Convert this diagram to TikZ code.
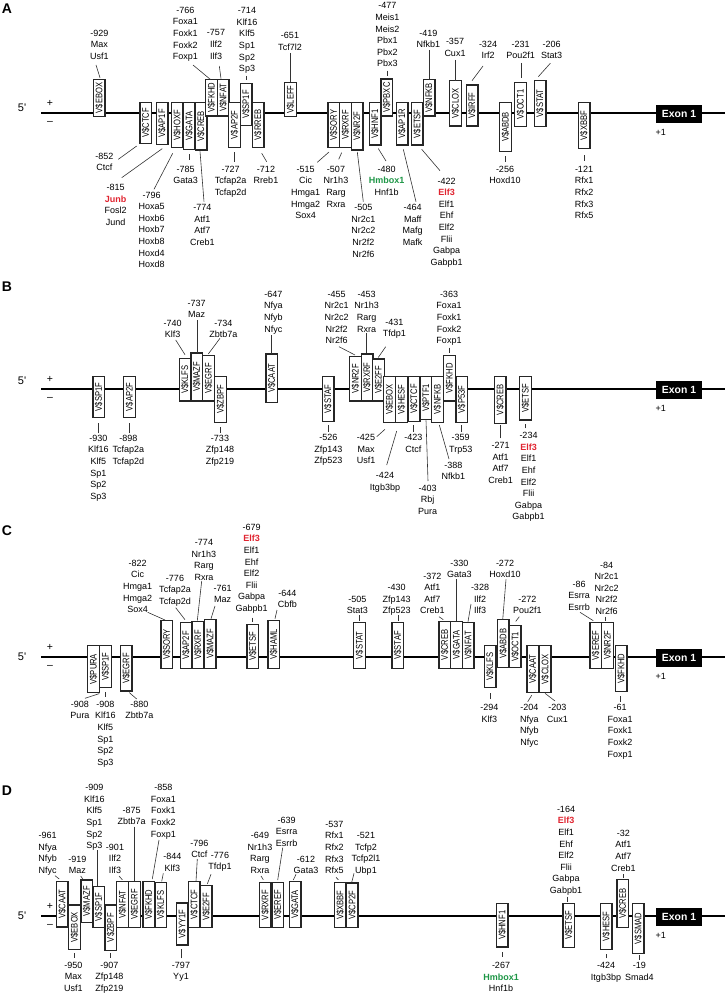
\documentclass[tikz,border=0pt]{standalone}
\usepackage{fontspec}
\setmainfont{Liberation Sans}
\usepackage{graphicx}
\definecolor{elfred}{RGB}{224,36,48}
\definecolor{hmgreen}{RGB}{30,150,70}
\newcommand\rd[1]{\textbf{\textcolor{elfred}{#1}}}
\newcommand\gn[1]{\textbf{\textcolor{hmgreen}{#1}}}
\newcommand\bx[1]{\rotatebox{90}{\scalebox{0.8}[1]{\fontsize{9.5}{9.5}\selectfont V\$#1}}}
\newcommand\tf[5]{\pgfmathsetmacro\tfh{#5-#4-1.4}\pgfmathsetmacro\tfy{(#4+#5)/2}%
  \node[tfb,minimum height=\tfh pt] (#1) at (#3,\tfy) {\bx{#2}};}
\newcommand\lb[4]{\pgfmathsetmacro\lby{#3-3.2}\node[lab] (#1) at (#2,\lby) {#4};}
\newcommand\ld[4]{\draw[leader] ([shift={(#2)}]#1) -- ([shift={(#4)}]#3);}
\newcommand\strand[5]{%
  \node[plet] (#1let) at (7,#4) {#3};
  \coordinate (#1s) at (41,#2); \coordinate (#1e) at (725,#2);
  \draw[dna] (#1s) -- (#1e);
  \node[fivep] (#1five) at (22,#5) {5\textquotesingle};
  \node[pm] (#1plus) at (50,{#2-9.5}) {+};
  \node[pm] (#1minus) at (50,{#2+10}) {\textendash};
  \node[exon] (#1exon) at (679,{#2+1}) {Exon 1};
  \node[lab,anchor=center] (#1one) at (660.7,{#2+19}) {+1};}
\begin{document}
\begin{tikzpicture}[x=1pt,y=-1pt,
  tfb/.style={draw=black!85,line width=1.4pt,fill=white,minimum width=11.6pt,inner sep=0pt,outer sep=0pt},
  lab/.style={anchor=north,inner sep=0pt,outer sep=0pt,align=center,font=\fontsize{9}{11.6}\selectfont},
  leader/.style={draw=black!80,line width=0.6pt},
  dna/.style={line width=1.4pt,black},
  plet/.style={font=\fontsize{14}{14}\selectfont\bfseries,inner sep=0pt},
  fivep/.style={font=\fontsize{11}{11}\selectfont,inner sep=0pt},
  pm/.style={font=\fontsize{10.5}{10.5}\selectfont,inner sep=0pt},
  exon/.style={fill=black,text=white,font=\fontsize{10.4}{10.4}\selectfont\bfseries,minimum width=46.6pt,minimum height=18pt,inner sep=0pt}]
\useasboundingbox (0,0) rectangle (726,995);
% ================= A =================
\strand{A}{113}{A}{8.3}{108}
\tf{aEBOX}{EBOX}{99.3}{79}{117}
\tf{aCTCF}{CTCF}{145.7}{102}{144}
\tf{aAP1F}{AP1F}{162}{102}{145}
\tf{aHOXF}{HOXF}{177.3}{102}{148.3}
\tf{aGATA}{GATA}{189.1}{102}{150}
\tf{aCREB}{CREB}{201}{102}{150.7}
\tf{aFKHD}{FKHD}{211.5}{79}{116.7}
\tf{aNFAT}{NFAT}{223.2}{79}{116.7}
\tf{aAP2F}{AP2F}{234.5}{102}{148}
\tf{aSP1F}{SP1F}{246}{83}{126}
\tf{aRREB}{RREB}{258}{102}{148}
\tf{aLEFF}{LEFF}{290.5}{81.7}{117.3}
\tf{aSORY}{SORY}{333.8}{102}{148.3}
\tf{aRXRF}{RXRF}{345.4}{102}{148}
\tf{aNR2F}{NR2F}{357}{102}{150.7}
\tf{aHNF1}{HNF1}{375}{102}{145.7}
\tf{aPBXC}{PBXC}{386.7}{78.3}{116.7}
\tf{aAP1R}{AP1R}{402}{102}{145.7}
\tf{aETSF}{ETSF}{417.2}{102}{145.7}
\tf{aNFKB}{NFKB}{429}{79}{116.7}
\tf{aCLOX}{CLOX}{455.5}{80}{126.7}
\tf{aIRFF}{IRFF}{472}{84.3}{126.7}
\tf{aABDB}{ABDB}{505.5}{102}{152}
\tf{aOCT1}{OCT1}{520.5}{82}{127}
\tf{aSTAT}{STAT}{540}{80}{127}
\tf{aXBBF}{XBBF}{584}{102}{149}
\lb{A929}{99.3}{33}{-929\\Max\\Usf1}
\lb{A766}{185.3}{10.3}{-766\\Foxa1\\Foxk1\\Foxk2\\Foxp1}
\lb{A757}{216}{33}{-757\\Ilf2\\Ilf3}
\lb{A714}{247}{10.8}{-714\\Klf16\\Klf5\\Sp1\\Sp2\\Sp3}
\lb{A651}{290}{35.7}{-651\\Tcf7l2}
\lb{A477}{387.3}{6}{-477\\Meis1\\Meis2\\Pbx1\\Pbx2\\Pbx3}
\lb{A419}{428.3}{33.3}{-419\\Nfkb1}
\lb{A357}{455}{41.7}{-357\\Cux1}
\lb{A324}{488}{44.3}{-324\\Irf2}
\lb{A231}{520.7}{44.3}{-231\\Pou2f1}
\lb{A206}{551.7}{44.3}{-206\\Stat3}
\lb{A852}{104.3}{156}{-852\\Ctcf}
\lb{A815}{115.7}{187.7}{-815\\\rd{Junb}\\Fosl2\\Jund}
\lb{A796}{151.7}{195}{-796\\Hoxa5\\Hoxb6\\Hoxb7\\Hoxb8\\Hoxd4\\Hoxd8}
\lb{A785}{185.7}{169.3}{-785\\Gata3}
\lb{A774}{202.3}{207.7}{-774\\Atf1\\Atf7\\Creb1}
\lb{A727}{230.7}{169.3}{-727\\Tcfap2a\\Tcfap2d}
\lb{A712}{266}{169.3}{-712\\Rreb1}
\lb{A515}{305.7}{169.3}{-515\\Cic\\Hmga1\\Hmga2\\Sox4}
\lb{A507}{336}{169.3}{-507\\Nr1h3\\Rarg\\Rxra}
\lb{A505}{363.3}{207.7}{-505\\Nr2c1\\Nr2c2\\Nr2f2\\Nr2f6}
\lb{A480}{386.7}{169.3}{-480\\\gn{Hmbox1}\\Hnf1b}
\lb{A464}{412.7}{207.7}{-464\\Maff\\Mafg\\Mafk}
\lb{A422}{446.7}{181}{-422\\\rd{Elf3}\\Elf1\\Ehf\\Elf2\\Flii\\Gabpa\\Gabpb1}
\lb{A256}{505}{169.3}{-256\\Hoxd10}
\lb{A121}{584}{169.3}{-121\\Rfx1\\Rfx2\\Rfx3\\Rfx5}
\ld{A929.north}{-3.3,35.2}{aEBOX.north}{0.7,-2}
\ld{A766.north}{7.7,57.9}{aFKHD.north}{-0.8,0}
\ld{A757.north}{3.3,36.2}{aNFAT.north}{-2.2,-1}
\ld{A714.north}{-1,68.4}{aSP1F.north}{0,-4}
\ld{A651.north}{0,20.5}{aLEFF.north}{-0.5,-0.7}
\ld{A477.north}{-0.3,67.9}{aPBXC.north}{0.3,-3.3}
\ld{A419.north}{0.7,19.9}{aNFKB.north}{0,0}
\ld{A357.north}{0.5,21.5}{aCLOX.north}{0,0}
\ld{A324.north}{-5,24.9}{aIRFF.north}{0,-4.3}
\ld{A231.north}{0.3,21.9}{aOCT1.north}{0.5,-5}
\ld{A206.north}{-1.4,22.2}{aSTAT.north}{-1.7,-4}
\ld{A852.north}{14,6.5}{aCTCF.south}{-9,2.7}
\ld{A815.north}{6,-6.8}{aAP1F.south}{0.3,4.3}
\ld{A796.north}{2.3,-2.5}{aHOXF.south}{-4.6,5.7}
\ld{A785.north}{3.3,-6.1}{aGATA.south}{-0.1,5}
\ld{A774.north}{1.7,-2.8}{aCREB.south}{-1,1.3}
\ld{A727.north}{3.3,-4.1}{aAP2F.south}{-0.5,5}
\ld{A712.north}{0.7,-4.4}{aRREB.south}{3.7,6}
\ld{A515.north}{11.6,-3.8}{aSORY.south}{-4.8,4.4}
\ld{A507.north}{2.7,-6.8}{aRXRF.south}{-3.7,5.3}
\ld{A505.north}{0,-2.8}{aNR2F.south}{0.3,2}
\ld{A480.north}{-0.7,-5.1}{aHNF1.south}{3.3,3.6}
\ld{A464.north}{3.3,-2.8}{aAP1R.south}{1.3,4.3}
\ld{A422.north}{-6.7,-7.1}{aETSF.south}{4.5,4.3}
\ld{A256.north}{0,-4.1}{aABDB.south}{-0.5,5}
\ld{A121.north}{0,-5.1}{aXBBF.south}{0,7}
% ================= B =================
\strand{B}{389}{B}{287}{381}
\tf{bSP1F}{SP1F}{98.7}{375.7}{418.3}
\tf{bAP2F}{AP2F}{129.5}{375.7}{418.3}
\tf{bKLFS}{KLFS}{185}{357.7}{401.7}
\tf{bMAZF}{MAZF}{196.8}{352.3}{401.7}
\tf{bEGRF}{EGRF}{208.5}{355}{401.7}
\tf{bZBPF}{ZBPF}{220.5}{375.7}{423.3}
\tf{bCAAT}{CAAT}{271.7}{353.3}{403.3}
\tf{bSTAF}{STAF}{328}{375.7}{422.3}
\tf{bNR2F}{NR2F}{355.5}{355.7}{401.7}
\tf{bRXRF}{RXRF}{367}{353.3}{401.7}
\tf{bE2FF}{E2FF}{378.5}{358.3}{401.7}
\tf{bEBOX}{EBOX}{389.5}{375.7}{423.3}
\tf{bHESF}{HESF}{401.5}{375.7}{423.3}
\tf{bCTCF}{CTCF}{414}{375.7}{422.3}
\tf{bPTF1}{PTF1}{426}{375.7}{420}
\tf{bNFKB}{NFKB}{437.5}{375.7}{423.3}
\tf{bFKHD}{FKHD}{449.5}{355}{401.7}
\tf{bP53F}{P53F}{461.7}{375.7}{423.3}
\tf{bCREB}{CREB}{500.3}{375.7}{424}
\tf{bETSF}{ETSF}{525.5}{375.7}{420.7}
\lb{B740}{172.7}{323.3}{-740\\Klf3}
\lb{B737}{196.7}{303.3}{-737\\Maz}
\lb{B734}{223.3}{323.3}{-734\\Zbtb7a}
\lb{B647}{273.3}{294.3}{-647\\Nfya\\Nfyb\\Nfyc}
\lb{B455}{336.7}{294.3}{-455\\Nr2c1\\Nr2c2\\Nr2f2\\Nr2f6}
\lb{B453}{366.7}{294.3}{-453\\Nr1h3\\Rarg\\Rxra}
\lb{B431}{394.3}{322.3}{-431\\Tfdp1}
\lb{B363}{449}{294.3}{-363\\Foxa1\\Foxk1\\Foxk2\\Foxp1}
\lb{B930}{98.3}{438.3}{-930\\Klf16\\Klf5\\Sp1\\Sp2\\Sp3}
\lb{B898}{128.3}{438.3}{-898\\Tcfap2a\\Tcfap2d}
\lb{B733}{220}{438.3}{-733\\Zfp148\\Zfp219}
\lb{B526}{328.3}{437.7}{-526\\Zfp143\\Zfp523}
\lb{B425}{366}{437.7}{-425\\Max\\Usf1}
\lb{B424}{385}{475.7}{-424\\Itgb3bp}
\lb{B423}{413.3}{437.7}{-423\\Ctcf}
\lb{B403}{427.7}{488.3}{-403\\Rbj\\Pura}
\lb{B388}{453.3}{465}{-388\\Nfkb1}
\lb{B359}{460.7}{437.7}{-359\\Trp53}
\lb{B271}{500.7}{445.7}{-271\\Atf1\\Atf7\\Creb1}
\lb{B234}{528.5}{435.7}{-234\\\rd{Elf3}\\Elf1\\Ehf\\Elf2\\Flii\\Gabpa\\Gabpb1}
\ld{B740.north}{3,19.9}{bKLFS.north}{0,-3.7}
\ld{B737.north}{0.3,19.9}{bMAZF.north}{0.2,-0.3}
\ld{B734.north}{-3.3,18.2}{bEGRF.north}{-0.2,-1.7}
\ld{B647.north}{-1.6,43.9}{bCAAT.north}{0,0}
\ld{B455.north}{2.3,55.6}{bNR2F.north}{-0.5,-1.4}
\ld{B453.north}{0,42.2}{bRXRF.north}{-0.3,-1}
\ld{B431.north}{-8.6,27.6}{bE2FF.north}{-0.2,-1.6}
\ld{B363.north}{0,56.6}{bFKHD.north}{-0.5,-2.7}
\ld{B930.north}{0,-1.8}{bSP1F.south}{-0.4,5}
\ld{B898.north}{0.7,-1.8}{bAP2F.south}{-0.5,5}
\ld{B733.north}{0,-2.1}{bZBPF.south}{-0.5,4.7}
\ld{B526.north}{0,-2.8}{bSTAF.south}{0.3,3.4}
\ld{B425.north}{10.7,2.2}{bEBOX.south}{-4.5,6.7}
\ld{B424.north}{1.7,-7.5}{bHESF.south}{-4.8,8.4}
\ld{B423.north}{0,-2.8}{bCTCF.south}{-0.7,3.4}
\ld{B403.north}{0.3,-4.1}{bPTF1.south}{0,1}
\ld{B388.north}{-4.3,-2.8}{bNFKB.south}{1.8,2.4}
\ld{B359.north}{0.3,-2.8}{bP53F.south}{-0.7,2.4}
\ld{B271.north}{0,-4.2}{bCREB.south}{0.4,1.7}
\ld{B234.north}{-3,-4.2}{bETSF.south}{0,3.6}
% ================= C =================
\strand{C}{657}{C}{530.3}{657}
\tf{cPURA}{PURA}{93.5}{645}{693.3}
\tf{cSP1F}{SP1F}{105.5}{645}{688.3}
\tf{cEGRF}{EGRF}{126.2}{645}{691.7}
\tf{cSORY}{SORY}{166.7}{620}{669}
\tf{cAP2F}{AP2F}{186}{621.7}{669}
\tf{cRXRF}{RXRF}{197.9}{621}{669}
\tf{cMAZF}{MAZF}{210.3}{619}{669}
\tf{cETSF}{ETSF}{252.8}{624}{669}
\tf{cHAML}{HAML}{273.8}{620}{669}
\tf{cSTAT}{STAT}{359.5}{621.7}{669}
\tf{cSTAF}{STAF}{397.8}{621.7}{669}
\tf{cCREB}{CREB}{444.8}{620.7}{669}
\tf{cGATA}{GATA}{456.5}{620.7}{669}
\tf{cNFAT}{NFAT}{468.2}{621.7}{669}
\tf{cKLFS}{KLFS}{490}{645}{688.3}
\tf{cABDB}{ABDB}{503.3}{619}{668.3}
\tf{cOCT1}{OCT1}{515.2}{625}{668.3}
\tf{cCAAT}{CAAT}{532.8}{645}{693.3}
\tf{cCLOX}{CLOX}{545.3}{645}{693.3}
\tf{cEREF}{EREF}{595.8}{621.7}{669}
\tf{cNR2F}{NR2F}{607.5}{621.7}{669}
\tf{cFKHD}{FKHD}{621.3}{645}{692.3}
\lb{C822}{137.7}{563.3}{-822\\Cic\\Hmga1\\Hmga2\\Sox4}
\lb{C776}{175}{578.3}{-776\\Tcfap2a\\Tcfap2d}
\lb{C774}{204}{542.7}{-774\\Nr1h3\\Rarg\\Rxra}
\lb{C761}{222.7}{588.3}{-761\\Maz}
\lb{C679}{251.7}{527.3}{-679\\\rd{Elf3}\\Elf1\\Ehf\\Elf2\\Flii\\Gabpa\\Gabpb1}
\lb{C644}{287.3}{593.3}{-644\\Cbfb}
\lb{C505}{357.3}{599}{-505\\Stat3}
\lb{C430}{396.7}{587.7}{-430\\Zfp143\\Zfp523}
\lb{C372}{432.3}{576}{-372\\Atf1\\Atf7\\Creb1}
\lb{C330}{459.3}{563.3}{-330\\Gata3}
\lb{C328}{480}{587.7}{-328\\Ilf2\\Ilf3}
\lb{C272a}{505}{563.3}{-272\\Hoxd10}
\lb{C272b}{527.3}{599.3}{-272\\Pou2f1}
\lb{C86}{579}{584.3}{-86\\Esrra\\Esrrb}
\lb{C84}{606.7}{565}{-84\\Nr2c1\\Nr2c2\\Nr2f2\\Nr2f6}
\lb{C908a}{80}{704.3}{-908\\Pura}
\lb{C908b}{105.3}{704.3}{-908\\Klf16\\Klf5\\Sp1\\Sp2\\Sp3}
\lb{C880}{139.3}{704.3}{-880\\Zbtb7a}
\lb{C294}{489.3}{707.7}{-294\\Klf3}
\lb{C204}{529.3}{707.7}{-204\\Nfya\\Nfyb\\Nfyc}
\lb{C203}{557.3}{707.7}{-203\\Cux1}
\lb{C61}{620}{707.7}{-61\\Foxa1\\Foxk1\\Foxk2\\Foxp1}
\ld{C822.north}{10,52.2}{cSORY.north}{-1.7,-0.7}
\ld{C776.north}{0.7,32.6}{cAP2F.north}{-1,-2.7}
\ld{C774.north}{-2.3,41.5}{cRXRF.north}{-0.6,-1}
\ld{C761.north}{-7.7,20.9}{cMAZF.north}{0.7,-1}
\ld{C679.north}{1,93.6}{cETSF.north}{-0.1,-2.3}
\ld{C644.north}{-10.3,19.9}{cHAML.north}{1.2,-2}
\ld{C505.north}{2,19.2}{cSTAT.north}{-0.2,-1}
\ld{C430.north}{1.1,30.5}{cSTAF.north}{0,-1}
\ld{C372.north}{6.7,43.9}{cCREB.north}{-1.5,-1.7}
\ld{C330.north}{-2.6,19.2}{cGATA.north}{0.2,0}
\ld{C328.north}{-9,19.5}{cNFAT.north}{-0.2,-0.7}
\ld{C272a.north}{1,19.2}{cABDB.north}{-0.6,0}
\ld{C272b.north}{-8,20.6}{cOCT1.north}{0.5,-4.3}
\ld{C86.north}{1,31.2}{cEREF.north}{-2.5,-1.7}
\ld{C84.north}{-1.4,54.9}{cNR2F.north}{-2.2,-1}
\ld{C908a.north}{5,-2.8}{cPURA.south}{5.8,1}
\ld{C908b.north}{0,-4.4}{cSP1F.south}{-0.2,4}
\ld{C880.north}{-2.6,-2.1}{cEGRF.south}{3.1,1.6}
\ld{C294.north}{0.7,-5.5}{cKLFS.south}{0,5.7}
\ld{C204.north}{-1.6,-2.8}{cCAAT.south}{-1.1,2.7}
\ld{C203.north}{-2.3,-3.5}{cCLOX.south}{-0.3,0.7}
\ld{C61.north}{0.7,-2.8}{cFKHD.south}{-0.6,4.4}
% ================= D =================
\strand{D}{916}{D}{790.3}{916}
\tf{dCAAT}{CAAT}{62.2}{880.7}{927.7}
\tf{dEBOX}{EBOX}{74.5}{904.3}{950}
\tf{dMAZF}{MAZF}{86.7}{879.3}{923.3}
\tf{dSP1F}{SP1F}{98.8}{885.7}{928.3}
\tf{dZBPF}{ZBPF}{110.8}{904.3}{951}
\tf{dNFAT}{NFAT}{122.5}{880.7}{928.3}
\tf{dEGRF}{EGRF}{134.5}{880.7}{928.3}
\tf{dFKHD}{FKHD}{148.8}{880.7}{928.3}
\tf{dKLFS}{KLFS}{160.8}{881.7}{928.3}
\tf{dYY1F}{YY1F}{182.2}{902.3}{945.7}
\tf{dCTCF}{CTCF}{194.2}{880.7}{928.3}
\tf{dE2FF}{E2FF}{206.2}{885}{928.3}
\tf{dRXRF}{RXRF}{265.3}{881.7}{928.3}
\tf{dEREF}{EREF}{277.8}{881.7}{928.3}
\tf{dGATA}{GATA}{295}{880.7}{928.3}
\tf{dXBBF}{XBBF}{340.2}{881.7}{928.3}
\tf{dCP2F}{CP2F}{352.2}{882.3}{928.3}
\tf{dHNF1}{HNF1}{502.2}{902.7}{947.7}
\tf{dETSF}{ETSF}{568.7}{902.7}{948.3}
\tf{dHESF}{HESF}{606.2}{902.7}{950}
\tf{dCREB}{CREB}{622.8}{879}{928.3}
\tf{dSMAD}{SMAD}{638.3}{902.7}{954.3}
\lb{D961}{47.7}{835.7}{-961\\Nfya\\Nfyb\\Nfyc}
\lb{D919}{77.3}{859}{-919\\Maz}
\lb{D909}{94.3}{787.7}{-909\\Klf16\\Klf5\\Sp1\\Sp2\\Sp3}
\lb{D901}{115}{847.3}{-901\\Ilf2\\Ilf3}
\lb{D875}{131.7}{810}{-875\\Zbtb7a}
\lb{D858}{163.3}{787.7}{-858\\Foxa1\\Foxk1\\Foxk2\\Foxp1}
\lb{D844}{172.3}{856.7}{-844\\Klf3}
\lb{D796}{199.3}{843.3}{-796\\Ctcf}
\lb{D776}{220}{855}{-776\\Tfdp1}
\lb{D649}{260}{835.7}{-649\\Nr1h3\\Rarg\\Rxra}
\lb{D639}{286.7}{820}{-639\\Esrra\\Esrrb}
\lb{D612}{306}{859}{-612\\Gata3}
\lb{D537}{334.3}{824.3}{-537\\Rfx1\\Rfx2\\Rfx3\\Rfx5}
\lb{D521}{366}{835.7}{-521\\Tcfp2\\Tcfp2l1\\Ubp1}
\lb{D164}{566}{809.3}{-164\\\rd{Elf3}\\Elf1\\Ehf\\Elf2\\Flii\\Gabpa\\Gabpb1}
\lb{D32}{623.3}{833.3}{-32\\Atf1\\Atf7\\Creb1}
\lb{D950}{73.3}{965}{-950\\Max\\Usf1}
\lb{D907}{109.3}{965}{-907\\Zfp148\\Zfp219}
\lb{D797}{181}{965}{-797\\Yy1}
\lb{D267}{501}{965.7}{-267\\\gn{Hmbox1}\\Hnf1b}
\lb{D424}{606}{965.7}{-424\\Itgb3bp}
\lb{D19}{639.3}{965.7}{-19\\Smad4}
\ld{D961.north}{7.3,43.2}{dCAAT.north}{-2.9,-2.4}
\ld{D919.north}{3.4,20.2}{dMAZF.north}{-3.4,-0.3}
\ld{D909.north}{3.4,65.5}{dSP1F.north}{-1.1,-0.7}
\ld{D901.north}{4,31.9}{dNFAT.north}{-0.2,-1.7}
\ld{D875.north}{2.6,19.9}{dEGRF.north}{-0.2,0}
\ld{D858.north}{-4.3,55.5}{dFKHD.north}{3.5,-2.4}
\ld{D844.north}{-9,19.8}{dKLFS.north}{0.9,-1}
\ld{D796.north}{-2,18.9}{dCTCF.north}{1.8,0}
\ld{D776.north}{-9,22.5}{dE2FF.north}{1.1,-1.7}
\ld{D649.north}{1,43.5}{dRXRF.north}{-2,-2.7}
\ld{D639.north}{-4,30.9}{dEREF.north}{-0.1,-2.4}
\ld{D612.north}{-10,18.5}{dGATA.north}{-1.7,-1.4}
\ld{D537.north}{1.7,56.2}{dXBBF.north}{-1.9,-2.7}
\ld{D521.north}{-12,40.8}{dCP2F.north}{-0.5,-0.6}
\ld{D164.north}{1.3,90.6}{dETSF.north}{-1.4,-1.7}
\ld{D32.north}{0,44.2}{dCREB.north}{0.5,-1.3}
\ld{D950.north}{1.4,-4.1}{dEBOX.south}{0.2,3.3}
\ld{D907.north}{0.7,-4.1}{dZBPF.south}{-0.8,2.3}
\ld{D797.north}{0.7,-3.5}{dYY1F.south}{-0.5,4.3}
\ld{D267.north}{1,-5.8}{dHNF1.south}{-0.2,4.6}
\ld{D424.north}{0.7,-4.2}{dHESF.south}{0.5,4.3}
\ld{D19.north}{0,-2.5}{dSMAD.south}{1,1.7}
\end{tikzpicture}
\end{document}
